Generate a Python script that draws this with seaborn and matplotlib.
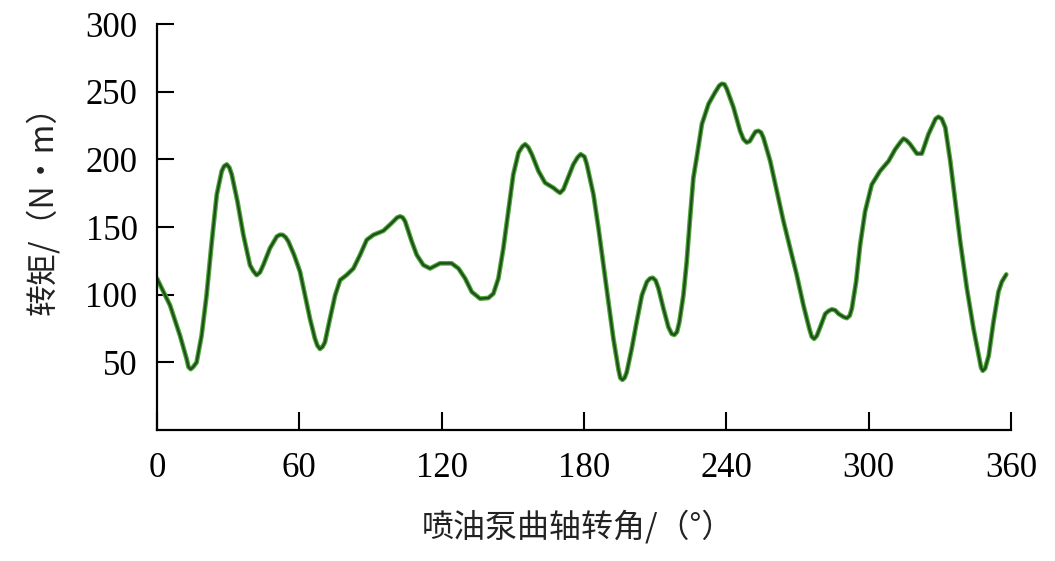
import matplotlib
matplotlib.use("Agg")
import matplotlib.pyplot as plt
import seaborn as sns
import pandas as pd

crank_angle = [0, 5.5, 9.7, 12.5, 14.2, 16.7, 18.8, 20.9, 23.1, 25.2, 27.3, 29.4, 31.5, 33.9,
               36.4, 39.2, 42.0, 44.8, 47.6, 50.5, 53.0, 55.4, 57.8, 60.3, 62.4, 64.5, 66.6,
               68.7, 70.8, 72.9, 75.1, 77.2, 79.9, 82.8, 85.6, 88.4, 91.2, 95.4, 98.9, 102.5,
               104.6, 107.4, 109.5, 112.3, 115.1, 119.3, 124.2, 127.1, 129.9, 132.7, 136.2,
               139.7, 141.8, 143.9, 146.0, 148.1, 150.2, 152.4, 155.2, 158.0, 160.8, 163.6,
               167.1, 169.9, 172.7, 175.5, 178.6,
               181.2, 184.0, 186.1, 188.2, 190.3, 192.4, 194.5, 196.2, 198.0, 200.1, 202.2,
               204.4, 206.5, 209.0, 211.4, 213.5, 215.6, 218.1, 220.2, 221.9, 223.3, 224.7,
               226.1, 227.5, 229.7, 232.5, 235.3, 238.1, 240.2, 243.0, 245.8, 248.6, 251.2,
               253.5, 255.6, 258.5, 261.3, 264.1, 266.9, 269.7, 272.5, 275.0, 277.0, 279.3,
               281.7, 284.5, 287.3, 290.8, 292.9, 294.7, 296.4, 298.5, 301.3, 304.8, 308.4,
               311.2, 314.7, 317.5, 320.3, 322.4, 325.2, 329.4, 332.3, 334.4, 336.5, 338.6,
               341.4, 344.2, 346.7, 348.1, 350.6, 352.6, 354.7, 356.1, 358.0]
torque = [112, 92.2, 69.8, 52.5, 45.0, 50.0, 69.8, 99.6, 139.3, 174.0, 191.4, 196.3, 188.9, 169.1,
          144.3, 121.9, 114.5, 121.9, 134.3, 143.0, 144.2, 139.3, 129.4, 117.0, 99.6, 82.2, 67.4,
          59.9, 64.9, 82.2, 99.6, 110.8, 114.5, 119.4, 129.4, 140.5, 144.2, 147.2, 152.9, 157.9,
          154.2, 139.3, 129.4, 121.9, 119.4, 123.2, 123.2, 119.4, 112.0, 102.1, 97.1,
          97.6, 100.8, 112.0, 134.3, 161.6, 188.9, 205.0, 211.2, 203.8, 191.4, 182.7,
          179.0, 175.3, 183.9, 196.3, 203.8,
          196.3, 174.0, 149.2, 121.9, 94.6, 67.4, 45.0, 37.1, 42.6, 59.9, 79.8,
          99.6, 109.5, 112.5, 104.6, 89.7, 76.0, 70.3, 79.8, 99.6, 124.4, 156.6,
          186.4, 201.3, 226.1, 241.0, 249.7, 255.9, 252.1, 238.5, 221.1, 212.5, 217.4,
          221.1, 216.2, 198.8, 176.5, 154.2, 134.3, 114.5, 92.2, 74.8, 67.4, 74.8,
          85.9, 89.2, 85.9, 82.7, 89.7, 109.5, 136.8, 161.6, 181.4, 191.4, 198.8,
          207.5, 215.4, 211.2, 204.3, 204.3, 218.6, 231.5, 223.6, 198.8, 169.1, 139.3,
          104.6, 74.8, 52.5, 43.8, 55.0, 79.8, 102.1, 109.5, 115.0]

# extra readings around the peaks and troughs
peak_angle = [13.3, 15.2, 28.3, 30.5, 40.6, 43.4, 51.8, 54.2, 67.6, 69.8, 101.2, 103.6,
              154.0, 156.5, 168.5, 171.3, 177.3, 180.2, 195.3, 197.1, 207.8, 210.2,
              217.0, 219.2, 237.0, 239.2, 247.2, 249.9, 252.3, 254.6, 276.0, 278.1,
              283.1, 285.9, 289.5, 292.0, 313.5, 316.0, 328.2, 330.8, 347.4, 349.1]
peak_torque = [46.5, 46.5, 195.0, 194.0, 117.5, 116.5, 144.3, 142.5, 62.5, 61.5, 157.0, 157.0,
               209.5, 209.0, 177.0, 177.8, 201.5, 202.0, 38.5, 38.5, 112.0, 110.5,
               71.0, 72.5, 254.5, 255.5, 215.0, 213.5, 220.5, 220.0, 69.0, 69.5,
               88.0, 88.5, 83.5, 84.5, 213.0, 214.0, 230.0, 230.0, 46.0, 45.5]

x_ticks = [0, 60, 120, 180, 240, 300, 360]
y_ticks = [50, 100, 150, 200, 250, 300]
x_label = "喷油泵曲轴转角/（°）"
y_label = "转矩/（N·m）"

df = pd.DataFrame({"angle": crank_angle + peak_angle, "torque": torque + peak_torque})
df = df.sort_values("angle").reset_index(drop=True)

sns.set_theme(style="white")
plt.rcParams['font.family'] = ['Liberation Serif', 'Noto Sans CJK SC', 'DejaVu Sans']

fig = plt.figure(figsize=(10.55, 5.61), dpi=100)
ax = fig.add_axes([0.1488, 0.2335, 0.8095, 0.7235])

sns.lineplot(data=df, x="angle", y="torque", ax=ax, color="#4fa83a", linewidth=3.4,
             estimator=None, sort=False, solid_joinstyle="round", solid_capstyle="round")
sns.lineplot(data=df, x="angle", y="torque", ax=ax, color="#1f4f1a", linewidth=1.7,
             estimator=None, sort=False, solid_joinstyle="round", solid_capstyle="round")

ax.set_xlim(0, 360)
ax.set_ylim(0, 300)
ax.set_xticks(x_ticks)
ax.set_yticks(y_ticks)
ax.tick_params(axis="both", direction="in", width=1.5, colors="black",
               labelsize=25, bottom=True, left=True)
ax.tick_params(axis="y", length=12, pad=14)
ax.tick_params(axis="x", length=13, pad=16)
for s in ["top", "right"]:
    ax.spines[s].set_visible(False)
for s in ["left", "bottom"]:
    ax.spines[s].set_color("black")
    ax.spines[s].set_linewidth(1.6)

ax.set_xlabel(x_label, fontsize=23, family=['Noto Sans CJK SC', 'DejaVu Sans'], color="#222222")
ax.set_ylabel(y_label, fontsize=23, family=['Noto Sans CJK SC', 'DejaVu Sans'], color="#222222")
ax.xaxis.set_label_coords(0.493, -0.196)
ax.yaxis.set_label_coords(-0.115, 0.56)

fig.savefig("out.png", dpi=100, facecolor="white")
